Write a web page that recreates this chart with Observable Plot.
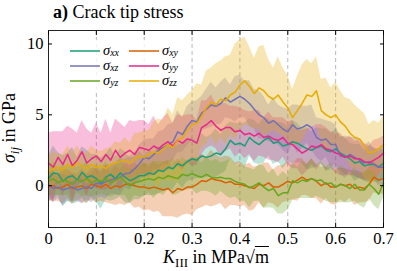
<!DOCTYPE html>
<html>
<head>
<meta charset="utf-8">
<script src="https://cdn.jsdelivr.net/npm/d3@7"></script>
<script src="https://cdn.jsdelivr.net/npm/@observablehq/plot@0.6"></script>
<style>
  body { margin: 0; background: #fff; }
  #wrap { position: relative; width: 397px; height: 271px; font-family: "Liberation Serif", "Times New Roman", serif; color: #000; }
  #plot svg { position: absolute; left: 0; top: 0; }
  .lab { position: absolute; white-space: nowrap; line-height: 1; }
  sub { font-size: 72%; vertical-align: -0.3em; line-height: 0; }
  #legend { position: absolute; left: 64px; top: 40px; width: 124px; height: 50px; background: rgba(255,255,255,0.8); }
  #legend .item { position: absolute; height: 13px; font-size: 14.5px; line-height: 13px; white-space: nowrap; }
  #legend .item svg { position: static; vertical-align: middle; }
  #legend sub { font-size: 68%; vertical-align: -0.15em; }
</style>
</head>
<body>
<div id="wrap">
  <div id="plot"></div>
  <div class="lab" id="title" style="left:53px; top:3px; font-size:18px;"><b>a)</b> Crack tip stress</div>
  <div class="lab" id="ylab" style="left:9px; top:128px; font-size:18px; transform: translate(-50%,-50%) rotate(-90deg);"><i>σ</i><sub><i>ij</i></sub>&nbsp;in GPa</div>
  <div class="lab" id="xlab" style="left:216px; top:257px; font-size:18px; transform: translate(-50%,-50%);"><i>K</i><sub>III</sub>&nbsp;in MPa√<span style="text-decoration:overline">m</span></div>
  <div id="legend"></div>
</div>
<script>
// K_III values (MPa·√m)
const K = d3.range(71).map(i => i / 100);
const xTicks = [0, 0.1, 0.2, 0.3, 0.4, 0.5, 0.6, 0.7];
const yTicks = [0, 5, 10];

const labels = ["xx", "xy", "xz", "yy", "yz", "zz"];
const colors = ["#1b9e77", "#d95f02", "#7570b3", "#e7298a", "#66a61e", "#e6ab02"];

// mean stresses (GPa)
const sXX = [0.5,0.9,0.85,0.3,0.6,0.7,0.4,0.95,0.6,0.7,
             0.5,0.15,0.6,0.8,0.5,0.9,0.6,0.35,0.5,0.7,
             0.7,0.9,0.8,1.1,1.0,1.3,1.2,1.55,1.4,1.7,
             1.9,1.8,2.1,2.0,2.1,2.3,2.2,2.6,3.2,2.9,
             3.0,2.8,3.4,3.1,2.9,3.2,3.4,3.0,3.1,2.8,
             2.9,3.1,3.0,2.8,2.6,2.5,2.7,2.8,2.5,2.4,
             2.6,2.3,2.1,1.9,1.6,1.7,1.4,1.5,1.5,1.3,1.6];
const sXY = [-0.1,0.0,-0.2,-0.1,0.1,-0.2,-0.1,0.0,-0.2,0.1,
             0.0,-0.1,0.1,-0.2,0.0,-0.1,0.1,0.1,0.0,-0.1,
             -0.1,-0.2,-0.1,-0.2,-0.3,-0.2,-0.5,-0.2,-0.3,-0.1,
             -0.1,0.1,0.35,0.3,0.5,0.4,0.35,0.2,0.3,0.1,
             0.1,0.0,-0.1,-0.2,0.1,0.0,0.2,-0.1,-0.1,0.1,
             0.3,0.2,0.4,0.6,0.4,0.5,0.3,0.0,0.2,-0.1,
             -0.1,0.1,0.0,0.1,-0.2,-0.1,-0.2,0.1,0.6,0.4,0.5];
const sXZ = [0.1,-0.2,-0.1,-0.3,-0.2,-0.1,-0.3,-0.2,-0.1,-0.2,
             0.2,0.1,0.3,0.4,0.5,0.6,0.85,0.9,1.2,1.55,
             2.0,1.9,2.2,2.5,2.7,2.9,3.1,3.8,3.6,4.2,
             4.6,4.5,5.1,5.4,5.7,5.6,5.8,6.2,5.9,6.1,
             6.3,6.1,5.8,5.4,5.0,4.8,4.4,4.6,4.3,4.0,
             3.8,4.3,4.0,4.1,4.3,4.1,3.4,3.2,3.3,2.9,
             2.9,2.1,2.0,2.2,2.0,1.8,1.6,1.7,1.5,1.3,1.3];
const sYY = [1.6,1.3,2.0,1.5,2.2,1.4,1.8,2.4,1.6,1.9,
             2.1,1.7,2.2,1.8,2.5,2.0,2.3,2.5,2.2,2.7,
             2.6,2.5,2.8,2.6,2.9,3.1,2.8,3.2,3.0,3.3,
             3.2,3.0,4.1,4.3,4.6,4.2,3.9,4.1,4.1,3.8,
             3.9,3.6,3.7,3.5,3.7,3.4,3.5,3.3,3.2,3.4,
             3.0,2.9,2.6,2.3,2.5,2.8,2.7,2.9,2.6,2.5,
             2.3,2.2,2.0,2.1,1.9,1.9,1.7,1.6,1.8,2.0,2.3];
const sYZ = [0.3,0.5,0.2,0.4,0.3,0.1,0.4,0.3,0.5,0.2,
             0.4,0.3,0.5,0.2,0.4,0.6,0.3,0.0,0.2,0.3,
             0.4,0.5,0.4,0.6,0.5,0.7,0.6,0.5,0.8,0.7,
             0.85,0.7,0.6,0.8,0.6,0.55,0.6,0.5,0.5,0.3,
             0.2,0.1,-0.15,0.0,0.2,-0.1,-0.35,-0.2,-0.7,-0.5,
             -0.5,0.35,0.2,0.4,0.3,0.5,0.35,0.4,0.1,0.2,
             -0.1,0.1,0.0,-0.2,0.1,-0.3,-0.3,0.1,-0.2,-0.6,0.2];
const sZZ = [1.0,1.2,1.3,1.1,1.5,1.3,1.6,1.4,1.2,1.5,
             1.3,1.4,1.2,1.5,1.6,1.7,1.8,1.6,1.9,2.1,
             2.0,2.2,2.4,2.3,2.6,2.9,2.7,3.2,3.4,3.9,
             4.3,4.4,4.9,5.5,5.9,5.7,6.1,6.0,6.4,6.6,
             7.1,7.4,7.0,6.5,6.9,6.7,6.3,6.1,6.4,5.9,
             5.5,4.8,5.3,5.8,6.4,6.3,6.7,5.3,5.0,4.8,
             5.0,4.5,4.2,3.7,3.4,3.3,2.8,2.3,2.4,2.6,2.9];

// spread (half-width of shaded band, GPa)
const dXX = [1.6,1.9,1.5,1.8,1.7,2.0,1.6,1.8,1.9,1.5,
             1.7,1.8,1.6,1.9,1.5,1.7,1.8,1.6,1.5,1.7,
             1.4,1.6,1.5,1.7,1.4,1.6,1.5,1.3,1.6,1.4,
             1.5,1.3,1.6,1.4,1.5,1.7,1.4,1.6,1.3,1.5,
             1.4,1.6,1.3,1.5,1.4,1.6,1.3,1.5,1.4,1.6,
             1.3,1.5,1.4,1.2,1.5,1.3,1.4,1.2,1.5,1.3,
             1.4,1.2,1.3,1.1,1.3,1.2,1.1,1.3,1.2,1.1,1.2];
const dXY = [1.0,1.1,0.9,1.2,1.0,1.1,0.9,1.2,1.0,1.1,
             1.2,1.0,1.3,1.1,1.4,1.2,1.5,1.3,1.6,1.4,
             1.7,1.5,1.8,1.6,1.9,2.0,1.7,2.1,1.8,1.9,
             2.0,1.8,1.9,1.7,2.0,1.8,1.6,1.9,1.7,1.5,
             1.6,1.4,1.7,1.5,1.3,1.6,1.4,1.2,1.5,1.3,
             1.4,1.2,1.5,1.3,1.1,1.4,1.2,1.3,1.1,1.2,
             1.3,1.1,1.2,1.0,1.2,1.1,1.0,1.2,1.1,1.0,1.1];
const dXZ = [0.9,1.0,0.8,1.1,0.9,1.0,0.8,1.1,0.9,1.0,
             1.1,0.9,1.2,1.0,1.1,1.3,1.0,1.2,1.1,1.3,
             1.2,1.4,1.1,1.3,1.2,1.4,1.3,1.5,1.2,1.4,
             1.3,1.5,1.2,1.4,1.6,1.3,1.5,1.4,1.2,1.6,
             1.5,1.3,1.6,1.4,1.7,1.5,1.3,1.6,1.4,1.5,
             1.6,1.4,1.7,1.5,1.3,1.6,1.4,1.5,1.3,1.6,
             1.4,1.3,1.5,1.2,1.4,1.3,1.2,1.4,1.1,1.3,1.2];
const dYY = [2.1,2.5,1.8,2.3,2.0,2.6,1.9,2.2,2.4,1.8,
             2.3,2.0,2.5,1.9,2.2,2.4,1.8,2.1,2.3,1.9,
             2.0,1.8,2.1,1.7,1.9,2.0,1.6,1.8,1.9,1.7,
             1.8,1.6,1.9,1.7,1.8,1.6,1.9,1.7,1.5,1.8,
             1.6,1.7,1.5,1.8,1.6,1.4,1.7,1.5,1.6,1.4,
             1.5,1.7,1.4,1.6,1.5,1.3,1.6,1.4,1.5,1.3,
             1.4,1.5,1.3,1.4,1.2,1.4,1.3,1.2,1.4,1.3,1.2];
const dYZ = [1.0,1.2,0.9,1.1,1.0,1.3,0.9,1.1,1.2,1.0,
             1.1,0.9,1.2,1.0,1.1,1.3,1.0,1.2,0.9,1.1,
             1.2,1.0,1.3,1.1,1.2,1.0,1.3,1.1,1.2,1.0,
             1.1,1.3,1.0,1.2,1.1,1.3,1.0,1.2,1.4,1.1,
             1.3,1.2,1.4,1.1,1.3,1.5,1.2,1.4,1.3,1.5,
             1.2,1.4,1.1,1.3,1.2,1.4,1.1,1.3,1.2,1.4,
             1.1,1.3,1.2,1.0,1.2,1.1,1.3,1.0,1.2,1.1,1.0];
const dZZ = [1.0,1.2,0.9,1.1,1.3,1.0,1.2,0.9,1.1,1.3,
             1.2,1.0,1.4,1.2,1.5,1.3,1.6,1.4,1.8,1.6,
             1.9,1.7,2.1,2.4,2.0,2.6,2.3,3.0,2.6,2.5,
             2.4,2.8,2.2,2.6,2.4,2.9,2.7,3.1,2.8,3.4,
             3.2,3.1,2.8,2.5,2.9,3.2,2.6,2.2,2.7,2.4,
             2.3,2.0,2.4,2.7,2.5,2.3,2.4,2.2,2.6,2.1,
             2.3,2.2,2.0,2.4,2.3,2.1,2.3,2.0,2.2,1.8,2.0];

const means = [sXX, sXY, sXZ, sYY, sYZ, sZZ];
const spreads = [dXX, dXY, dXZ, dYY, dYZ, dZZ];

const series = labels.map((lab, j) => ({
  lab, color: colors[j],
  rows: K.map((k, i) => ({k, v: means[j][i], lo: means[j][i] - spreads[j][i], hi: means[j][i] + spreads[j][i]}))
}));

const fmtX = d => d === 0 ? "0" : d.toFixed(1);
const serif = '"Liberation Serif", "Times New Roman", serif';

const chart = Plot.plot({
  width: 397, height: 271,
  marginLeft: 48, marginRight: 14, marginTop: 30, marginBottom: 44,
  style: {fontFamily: serif, fontSize: "16.5px", color: "#000", background: "transparent"},
  x: {domain: [0, 0.7], label: null},
  y: {domain: [-2.95, 10.95], label: null},
  marks: [
    Plot.gridX(xTicks, {stroke: "#b8b8b8", strokeOpacity: 1, strokeDasharray: "4,3", strokeWidth: 1}),
    ...series.map(s => Plot.areaY(s.rows, {x: "k", y1: "lo", y2: "hi", fill: s.color, fillOpacity: 0.3})),
    ...series.map(s => Plot.lineY(s.rows, {x: "k", y: "v", stroke: s.color, strokeWidth: 1.5})),
    Plot.frame({stroke: "#222", strokeWidth: 1}),
    Plot.axisX(xTicks, {anchor: "bottom", tickSize: 0, tickPadding: 5, tickFormat: fmtX, label: null, fontFamily: serif, fontSize: 16.5}),
    Plot.axisX(xTicks, {anchor: "bottom", tickSize: -4, text: null, label: null}),
    Plot.axisX(xTicks, {anchor: "top", tickSize: -4, text: null, label: null}),
    Plot.axisY(yTicks, {anchor: "left", tickSize: 0, tickPadding: 5, label: null, fontFamily: serif, fontSize: 16.5}),
    Plot.axisY(yTicks, {anchor: "left", tickSize: -4, text: null, label: null}),
    Plot.axisY(yTicks, {anchor: "right", tickSize: -4, text: null, label: null})
  ]
});
document.getElementById("plot").appendChild(chart);

// legend: two columns, three rows
const legend = document.getElementById("legend");
series.forEach((s, j) => {
  const col = j % 2, row = Math.floor(j / 2);
  const div = document.createElement("div");
  div.className = "item";
  div.style.left = (6 + col * 59) + "px";
  div.style.top = (3.5 + row * 15) + "px";
  div.innerHTML = `<svg width="30" height="4"><line x1="0" x2="30" y1="2" y2="2" stroke="${s.color}" stroke-width="1.5"/></svg>` +
    `<span style="margin-left:3px"><i>σ</i><sub><i>${s.lab}</i></sub></span>`;
  legend.appendChild(div);
});
</script>
</body>
</html>
